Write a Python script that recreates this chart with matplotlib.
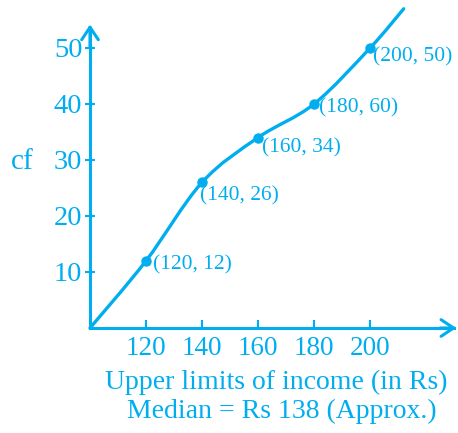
import matplotlib.pyplot as plt
from matplotlib.path import Path
from matplotlib.patches import PathPatch

blue = '#00aeef'

# ogive data
income = [120, 140, 160, 180, 200]
cf = [12, 26, 34, 40, 50]
point_labels = ['(120, 12)', '(140, 26)', '(160, 34)', '(180, 60)', '(200, 50)']
label_offsets = [(7, -4), (-2, -13), (4, -10), (5, -4), (3, -9)]  # pixels
curve_x = [100] + income + [212]
curve_y = [0] + cf + [57]
xticks = [120, 140, 160, 180, 200]
yticks = [10, 20, 30, 40, 50]

plt.rcParams['font.family'] = ['Liberation Serif', 'DejaVu Serif']

fig = plt.figure(figsize=(4.58, 4.33), dpi=100)
ax = fig.add_axes([90 / 458, 105 / 433, 368 / 458, 328 / 433])
ax.set_xlim(100, 231.4)
ax.set_ylim(0, 58.57)

# smooth freehand curve (catmull-rom -> bezier)
pts = list(zip(curve_x, curve_y))
verts = [pts[0]]
codes = [Path.MOVETO]
for i in range(len(pts) - 1):
    p0 = pts[i - 1] if i > 0 else pts[i]
    p1 = pts[i]
    p2 = pts[i + 1]
    p3 = pts[i + 2] if i + 2 < len(pts) else pts[i + 1]
    c1 = (p1[0] + (p2[0] - p0[0]) / 6, p1[1] + (p2[1] - p0[1]) / 6)
    c2 = (p2[0] - (p3[0] - p1[0]) / 6, p2[1] - (p3[1] - p1[1]) / 6)
    verts += [c1, c2, p2]
    codes += [Path.CURVE4] * 3
ax.add_patch(PathPatch(Path(verts, codes), fill=False, edgecolor=blue, lw=2.4,
                       capstyle='round', clip_on=False))

ax.plot(income, cf, 'o', color=blue, markersize=6.5, clip_on=False)
for x, y, s, off in zip(income, cf, point_labels, label_offsets):
    ax.annotate(s, (x, y), xytext=off, textcoords='offset pixels',
                ha='left', va='center', color=blue, fontsize=15.5)

# axes
for side in ['top', 'right']:
    ax.spines[side].set_visible(False)
ax.spines['left'].set_bounds(0, 53)
ax.spines['bottom'].set_bounds(100, 230)
for side in ['left', 'bottom']:
    ax.spines[side].set_color(blue)
    ax.spines[side].set_linewidth(2.2)
ax.annotate('', xy=(100, 54.2), xytext=(100, 50),
            arrowprops=dict(arrowstyle='->,head_length=0.45,head_width=0.3',
                            color=blue, lw=2.2, shrinkA=0, shrinkB=0,
                            mutation_scale=20), annotation_clip=False)
ax.annotate('', xy=(230.8, 0), xytext=(225, 0),
            arrowprops=dict(arrowstyle='->,head_length=0.45,head_width=0.3',
                            color=blue, lw=2.2, shrinkA=0, shrinkB=0,
                            mutation_scale=20), annotation_clip=False)

ax.set_xticks(xticks)
ax.set_yticks(yticks)
ax.tick_params(axis='x', direction='in', length=6, width=1.5, color=blue,
               labelcolor=blue, labelsize=19.5, pad=6)
ax.tick_params(axis='y', direction='inout', length=7, width=1.5, color=blue,
               labelcolor=blue, labelsize=20.5, pad=2)

fig.text(11 / 458, 1 - 162 / 433, 'cf', color=blue, fontsize=21,
         ha='left', va='center')
fig.text(276 / 458, 1 - 382 / 433, 'Upper limits of income (in Rs)',
         color=blue, fontsize=20, ha='center', va='center')
fig.text(282 / 458, 1 - 411 / 433, 'Median = Rs 138 (Approx.)',
         color=blue, fontsize=20, ha='center', va='center')

fig.savefig('out.png', dpi=100)
